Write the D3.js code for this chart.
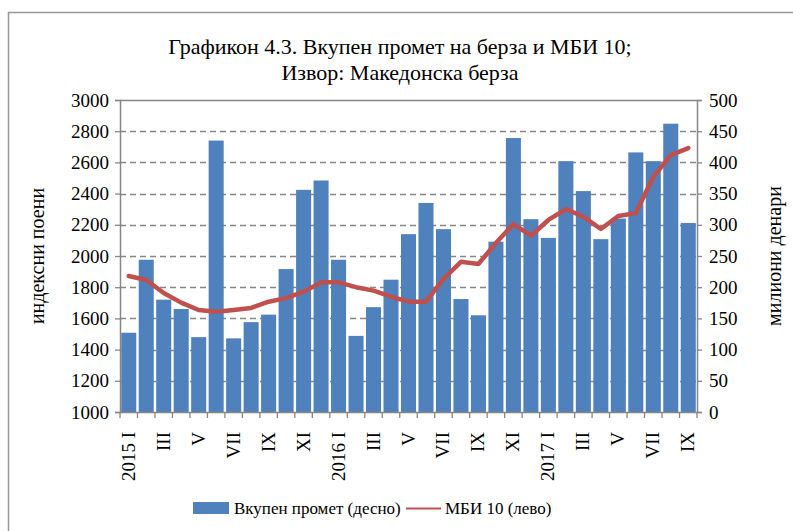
<!DOCTYPE html>
<html>
<head>
<meta charset="utf-8">
<script src="https://cdn.jsdelivr.net/npm/d3@7"></script>
<style>
  body { margin: 0; background: #fff; }
  svg text { font-family: "Liberation Serif", "DejaVu Serif", serif; fill: #000; }
</style>
</head>
<body>
<div id="chart"></div>
<script>
// months Jan 2015 - Sep 2017
const months = ["2015 I","II","III","IV","V","VI","VII","VIII","IX","X","XI","XII",
  "2016 I","II","III","IV","V","VI","VII","VIII","IX","X","XI","XII",
  "2017 I","II","III","IV","V","VI","VII","VIII","IX"];
// Вкупен промет, милиони денари (right axis)
const turnover = [127,244,180,165,120,435,118,144,156,229,356,371,
  244,122,168,212,285,335,293,181,155,273,439,309,
  279,402,354,277,310,416,402,462,303];
// МБИ 10, индексни поени (left axis)
const mbi10 = [1872,1846,1763,1701,1654,1643,1654,1667,1707,1730,1771,1831,
  1831,1800,1778,1739,1707,1707,1853,1963,1949,2083,2205,2130,
  2231,2301,2252,2173,2256,2275,2506,2647,2692];
const leftTicks = [1000,1200,1400,1600,1800,2000,2200,2400,2600,2800,3000];
const rightTicks = [0,50,100,150,200,250,300,350,400,450,500];

const W = 793, H = 531;
const m = {left: 120, right: 697, top: 100, bottom: 412};

const svg = d3.select("#chart").append("svg")
  .attr("width", W).attr("height", H);

// outer frame (top and left edges visible)
svg.append("path")
  .attr("d", "M8.5," + H + "V12.5H" + W)
  .attr("fill", "none").attr("stroke", "#999").attr("stroke-width", 1.5);

const idx = d3.range(months.length);
const x = d3.scaleBand().domain(idx).range([m.left, m.right]).paddingInner(0.14).paddingOuter(0.07);
const yL = d3.scaleLinear().domain([1000, 3000]).range([m.bottom, m.top]);
const yR = d3.scaleLinear().domain([0, 500]).range([m.bottom, m.top]);

// gridlines
svg.append("g").selectAll("line")
  .data(leftTicks.filter(d => d > 1000 && d < 3000))
  .enter().append("line")
  .attr("x1", m.left).attr("x2", m.right)
  .attr("y1", d => Math.round(yL(d)) + 0.5).attr("y2", d => Math.round(yL(d)) + 0.5)
  .attr("stroke", "#868686").attr("stroke-width", 1.3).attr("stroke-dasharray", "6,4");
svg.append("line")
  .attr("x1", m.left).attr("x2", m.right).attr("y1", m.top + 0.5).attr("y2", m.top + 0.5)
  .attr("stroke", "#868686").attr("stroke-width", 1.3);

// bars
svg.append("g").selectAll("rect")
  .data(turnover)
  .enter().append("rect")
  .attr("x", (d, i) => x(i))
  .attr("width", x.bandwidth())
  .attr("y", d => yR(d))
  .attr("height", d => yR(0) - yR(d))
  .attr("fill", "#4F81BD");

// line
const line = d3.line()
  .x((d, i) => x(i) + x.bandwidth() / 2)
  .y(d => yL(d));
svg.append("path")
  .datum(mbi10)
  .attr("d", line)
  .attr("fill", "none")
  .attr("stroke", "#C0504D")
  .attr("stroke-width", 4.5)
  .attr("stroke-linejoin", "round")
  .attr("stroke-linecap", "round");

// axes
const axisColor = "#868686";
const gL = svg.append("g").attr("transform", "translate(" + m.left + ",0)")
  .call(d3.axisLeft(yL).tickValues(leftTicks).tickSize(5).tickPadding(6).tickFormat(d3.format("d")));
const gR = svg.append("g").attr("transform", "translate(" + m.right + ",0)")
  .call(d3.axisRight(yR).tickValues(rightTicks).tickSize(5).tickPadding(7).tickFormat(d3.format("d")));
[gL, gR].forEach(g => {
  g.attr("font-family", null);
  g.select(".domain").attr("stroke", axisColor).attr("stroke-width", 1.5);
  g.selectAll(".tick line").attr("stroke", axisColor).attr("stroke-width", 1.3);
  g.selectAll("text").attr("font-size", 19).attr("fill", "#000");
});

// x axis: ticks at band boundaries
const gX = svg.append("g");
gX.append("line")
  .attr("x1", m.left).attr("x2", m.right).attr("y1", m.bottom + 0.5).attr("y2", m.bottom + 0.5)
  .attr("stroke", axisColor).attr("stroke-width", 1.5);
const bounds = d3.range(months.length + 1).map(i => m.left + i * (m.right - m.left) / months.length);
gX.selectAll("line.t").data(bounds).enter().append("line")
  .attr("class", "t")
  .attr("x1", d => d).attr("x2", d => d)
  .attr("y1", m.bottom).attr("y2", m.bottom + 6)
  .attr("stroke", axisColor).attr("stroke-width", 1.3);
gX.selectAll("text").data(idx.filter(i => i % 2 === 0)).enter().append("text")
  .attr("transform", i => "translate(" + (x(i) + x.bandwidth() / 2 + 6) + "," + (m.bottom + 20) + ") rotate(-90)")
  .attr("text-anchor", "end")
  .attr("font-size", 19)
  .text(i => months[i]);

// axis titles
svg.append("text")
  .attr("transform", "translate(44," + (m.top + m.bottom) / 2 + ") rotate(-90)")
  .attr("text-anchor", "middle").attr("font-size", 20)
  .text("индексни поени");
svg.append("text")
  .attr("transform", "translate(781," + (m.top + m.bottom) / 2 + ") rotate(-90)")
  .attr("text-anchor", "middle").attr("font-size", 20)
  .text("милиони денари");

// title
svg.append("text").attr("x", 400).attr("y", 54).attr("text-anchor", "middle").attr("font-size", 22)
  .text("Графикон 4.3. Вкупен промет на берза и МБИ 10;");
svg.append("text").attr("x", 400).attr("y", 80).attr("text-anchor", "middle").attr("font-size", 22)
  .text("Извор: Македонска берза");

// legend
const lg = svg.append("g");
lg.append("rect").attr("x", 193).attr("y", 502).attr("width", 36).attr("height", 12).attr("fill", "#4F81BD");
lg.append("text").attr("x", 234).attr("y", 514).attr("font-size", 17).text("Вкупен промет (десно)");
lg.append("line").attr("x1", 406).attr("x2", 441).attr("y1", 508.5).attr("y2", 508.5)
  .attr("stroke", "#C0504D").attr("stroke-width", 2);
lg.append("text").attr("x", 445).attr("y", 514).attr("font-size", 17).text("МБИ 10 (лево)");
</script>
</body>
</html>
